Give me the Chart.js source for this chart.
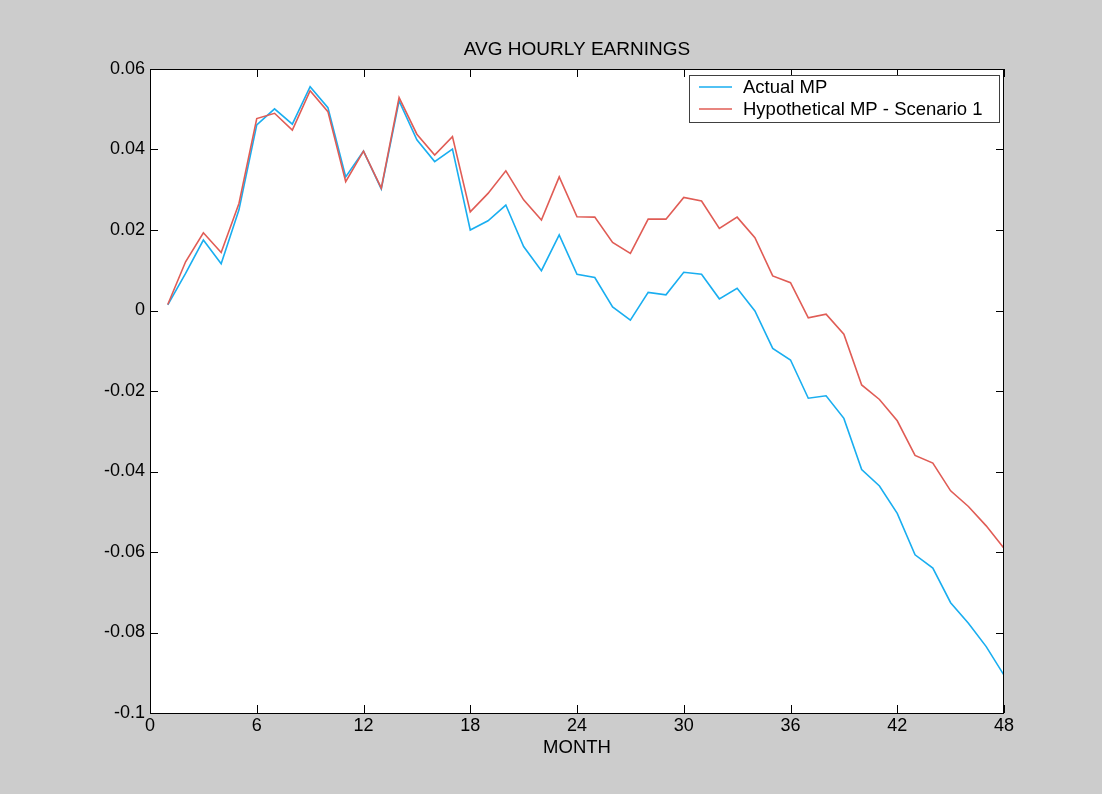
<!DOCTYPE html>
<html>
<head>
<meta charset="utf-8">
<script src="https://cdn.jsdelivr.net/npm/chart.js@4/dist/chart.umd.min.js"></script>
<style>
  html, body { margin: 0; padding: 0; background: #cccccc; }
  #wrap { width: 1102px; height: 794px; }
</style>
</head>
<body>
<div id="wrap"><canvas id="c" width="1102" height="794"></canvas></div>
<script>
// Months after the policy shock
const months = [1, 2, 3, 4, 5, 6, 7, 8, 9, 10, 11, 12, 13, 14, 15, 16, 17, 18, 19, 20, 21, 22, 23, 24,
                25, 26, 27, 28, 29, 30, 31, 32, 33, 34, 35, 36, 37, 38, 39, 40, 41, 42, 43, 44, 45, 46, 47, 48];

// Response of average hourly earnings
const actualMP = [0.0014, 0.0092, 0.0175, 0.0116, 0.0250, 0.0461, 0.0501, 0.0463, 0.0556, 0.0504,
                  0.0332, 0.0396, 0.0302, 0.0521, 0.0424, 0.0370, 0.0401, 0.0200, 0.0223, 0.0262,
                  0.0159, 0.0099, 0.0188, 0.0090, 0.0082, 0.0009, -0.0024, 0.0045, 0.0039, 0.0095,
                  0.0090, 0.0029, 0.0055, -0.0001, -0.0094, -0.0123, -0.0218, -0.0212, -0.0268, -0.0395,
                  -0.0436, -0.0504, -0.0607, -0.0640, -0.0726, -0.0777, -0.0835, -0.0906];

const hypotheticalMP = [0.0015, 0.0121, 0.0193, 0.0144, 0.0266, 0.0477, 0.0490, 0.0448, 0.0546, 0.0494,
                        0.0320, 0.0396, 0.0304, 0.0529, 0.0438, 0.0386, 0.0432, 0.0245, 0.0291, 0.0347,
                        0.0275, 0.0225, 0.0332, 0.0233, 0.0232, 0.0169, 0.0142, 0.0227, 0.0227, 0.0281,
                        0.0272, 0.0204, 0.0232, 0.0181, 0.0086, 0.0069, -0.0018, -0.0009, -0.0059, -0.0185,
                        -0.0221, -0.0274, -0.0360, -0.0379, -0.0448, -0.0487, -0.0535, -0.0591];

// Axis ticks
const xTicks = [0, 6, 12, 18, 24, 30, 36, 42, 48];
const yTicks = [-0.1, -0.08, -0.06, -0.04, -0.02, 0, 0.02, 0.04, 0.06];

const seriesNames = ['Actual MP', 'Hypothetical MP - Scenario 1'];
const chartTitle = 'AVG HOURLY EARNINGS';
const xTitle = 'MONTH';

const FONT = "'Liberation Sans', Arial, Helvetica, sans-serif";
const BLUE = '#19aef0';
const RED = '#e05c55';

// Frame, inward tick marks, titles and the boxed legend
const framePlugin = {
  id: 'frame',
  beforeDraw(chart) {
    const { ctx, chartArea: a } = chart;
    ctx.save();
    ctx.fillStyle = '#cccccc';
    ctx.fillRect(0, 0, chart.width, chart.height);
    ctx.fillStyle = '#ffffff';
    ctx.fillRect(a.left, a.top, a.right - a.left, a.bottom - a.top);
    ctx.restore();
  },
  afterDraw(chart) {
    const { ctx, chartArea: a, scales } = chart;
    const xs = scales.x, ys = scales.y;
    const tl = 8;
    ctx.save();
    ctx.strokeStyle = '#000000';
    ctx.lineWidth = 1;
    ctx.beginPath();
    xTicks.forEach(v => {
      const px = Math.round(xs.getPixelForValue(v)) + 0.5;
      ctx.moveTo(px, a.bottom); ctx.lineTo(px, a.bottom - tl);
      ctx.moveTo(px, a.top); ctx.lineTo(px, a.top + tl);
    });
    yTicks.forEach(v => {
      const py = Math.round(ys.getPixelForValue(v)) + 0.5;
      ctx.moveTo(a.left, py); ctx.lineTo(a.left + tl, py);
      ctx.moveTo(a.right, py); ctx.lineTo(a.right - tl, py);
    });
    ctx.stroke();
    ctx.strokeRect(Math.round(a.left) + 0.5, Math.round(a.top) + 0.5,
                   Math.round(a.right - a.left) - 1, Math.round(a.bottom - a.top));

    // Titles
    const cx = (a.left + a.right) / 2;
    ctx.fillStyle = '#000000';
    ctx.textAlign = 'center';
    ctx.textBaseline = 'alphabetic';
    ctx.font = '19px ' + FONT;
    ctx.fillText(chartTitle, cx, 55);
    ctx.font = '18.5px ' + FONT;
    ctx.fillText(xTitle, cx, 753);

    // Legend
    const lx = 689.5, ly = 75.5, lw = 310, lh = 47;
    ctx.fillStyle = '#ffffff';
    ctx.fillRect(lx, ly, lw, lh);
    ctx.strokeStyle = '#404040';
    ctx.strokeRect(lx, ly, lw, lh);
    ctx.font = '18.5px ' + FONT;
    ctx.textAlign = 'left';
    ctx.textBaseline = 'middle';
    chart.data.datasets.forEach((ds, i) => {
      const y = 87 + i * 22;
      ctx.strokeStyle = ds.borderColor;
      ctx.lineWidth = 1.5;
      ctx.beginPath();
      ctx.moveTo(699, y); ctx.lineTo(732, y);
      ctx.stroke();
      ctx.fillStyle = '#000000';
      ctx.fillText(ds.label, 743, y + 1);
    });
    ctx.restore();
  }
};

new Chart(document.getElementById('c'), {
  type: 'line',
  data: {
    datasets: [
      {
        label: seriesNames[0],
        data: months.map((m, i) => ({ x: m, y: actualMP[i] })),
        borderColor: BLUE,
        borderWidth: 1.6,
        pointRadius: 0,
        tension: 0,
        order: 1
      },
      {
        label: seriesNames[1],
        data: months.map((m, i) => ({ x: m, y: hypotheticalMP[i] })),
        borderColor: RED,
        borderWidth: 1.6,
        pointRadius: 0,
        tension: 0,
        order: 0
      }
    ]
  },
  options: {
    responsive: false,
    animation: false,
    devicePixelRatio: 1,
    layout: { padding: { left: 0, top: 69, right: 98, bottom: 0 } },
    plugins: {
      legend: { display: false },
      title: { display: false },
      tooltip: { enabled: false }
    },
    scales: {
      x: {
        type: 'linear',
        min: 0, max: 48,
        afterBuildTicks: s => { s.ticks = xTicks.map(v => ({ value: v })); },
        afterFit: s => { s.height = 81; },
        grid: { display: false, drawTicks: false, tickLength: 0 },
        border: { display: false },
        ticks: {
          color: '#000000',
          font: { family: FONT, size: 18 },
          padding: 2,
          maxRotation: 0,
          autoSkip: false,
          callback: v => String(v)
        }
      },
      y: {
        type: 'linear',
        min: -0.1, max: 0.06,
        afterBuildTicks: s => { s.ticks = yTicks.map(v => ({ value: v })); },
        afterFit: s => { s.width = 150; },
        grid: { display: false, drawTicks: false, tickLength: 0 },
        border: { display: false },
        ticks: {
          color: '#000000',
          font: { family: FONT, size: 18 },
          padding: 5,
          autoSkip: false,
          callback: v => String(v)
        }
      }
    }
  },
  plugins: [framePlugin]
});
</script>
</body>
</html>
